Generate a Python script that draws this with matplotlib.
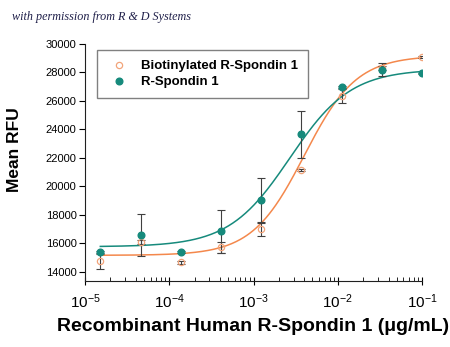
"""Dose-response of R-Spondin 1 vs biotinylated R-Spondin 1 (Mean RFU)."""

import matplotlib

matplotlib.use("Agg")
import matplotlib.pyplot as plt
import numpy as np
from matplotlib.ticker import LogLocator, NullFormatter

# concentrations (ug/mL), 3-fold serial dilution
conc = [1.52e-5, 4.57e-5, 1.37e-4, 4.12e-4, 1.23e-3, 3.7e-3, 1.11e-2, 3.33e-2, 1.0e-1]

biotin_rfu = [14720, 16085, 14650, 15700, 17000, 21135, 26350, 28300, 29040]
biotin_err = [500, 150, 100, 400, 470, 100, 500, 150, 80]

rspo_rfu = [15380, 16575, 15380, 16830, 19000, 23635, 26935, 28150, 27900]
rspo_err = [80, 1450, 80, 1500, 1550, 1650, 120, 450, 50]

# 4PL fit parameters (bottom, top, ec50, hill) estimated from the drawn curves
biotin_fit = (15150, 29150, 4.0e-3, 1.4)
rspo_fit = (15750, 28200, 2.7e-3, 1.2)

series_labels = ["Biotinylated R-Spondin 1", "R-Spondin 1"]

TEAL = "#168a7c"
ORANGE = "#f4884c"


def four_pl(x, bottom, top, ec50, hill):
    return bottom + (top - bottom) / (1.0 + (ec50 / x) ** hill)


def main() -> None:
    plt.rcParams.update({
        "font.family": ["Liberation Sans", "DejaVu Sans"],
        "mathtext.fontset": "custom",
        "mathtext.rm": "Liberation Sans",
        "mathtext.it": "Liberation Sans:italic",
        "mathtext.bf": "Liberation Sans:bold",
    })

    fig = plt.figure(figsize=(4.5, 3.47), dpi=100)
    ax = fig.add_axes([0.1889, 0.1902, 0.749, 0.6844])

    xs = np.logspace(np.log10(conc[0]), -1, 300)
    ax.plot(xs, four_pl(xs, *biotin_fit), color=ORANGE, lw=1.1, zorder=2)
    ax.plot(xs, four_pl(xs, *rspo_fit), color=TEAL, lw=1.1, zorder=2)

    ax.errorbar(conc, biotin_rfu, yerr=biotin_err, fmt="none", ecolor="#404040",
                elinewidth=0.8, capsize=3, capthick=0.8, zorder=3)
    ax.errorbar(conc, rspo_rfu, yerr=rspo_err, fmt="none", ecolor="#404040",
                elinewidth=0.8, capsize=3, capthick=0.8, zorder=3)

    ax.plot(conc, biotin_rfu, "o", ms=4.5, mfc="none", mec="#f2a47a", mew=0.9,
            ls="none", label=series_labels[0], zorder=4)
    ax.plot(conc, rspo_rfu, "o", ms=4.8, mfc=TEAL, mec=TEAL, ls="none",
            label=series_labels[1], zorder=5)

    ax.set_xscale("log")
    ax.set_xlim(1e-5, 1e-1)
    ax.set_ylim(13350, 30000)
    ax.set_yticks(np.arange(14000, 30001, 2000))

    ax.xaxis.set_major_locator(LogLocator(base=10, numticks=10))
    ax.xaxis.set_minor_locator(LogLocator(base=10, subs=np.arange(2, 10), numticks=50))
    ax.xaxis.set_minor_formatter(NullFormatter())

    for side in ("top", "right"):
        ax.spines[side].set_visible(False)
    for side in ("left", "bottom"):
        ax.spines[side].set_color("#202020")
        ax.spines[side].set_linewidth(0.8)

    ax.tick_params(axis="y", direction="out", length=4, width=0.8, labelsize=8, pad=2)
    ax.tick_params(axis="x", which="major", direction="inout", length=6, width=0.8,
                   labelsize=11, pad=5)
    ax.tick_params(axis="x", which="minor", direction="in", length=3, width=0.6)

    ax.set_ylabel("Mean RFU", fontsize=12.5, fontweight="bold", va="center", ha="center")
    ax.yaxis.set_label_coords(-0.208, 0.552)
    ax.set_xlabel("Recombinant Human R-Spondin 1 (\u03bcg/mL)", fontsize=14,
                  fontweight="bold", labelpad=5)

    leg = ax.legend(loc="upper left", bbox_to_anchor=(0.0356, 0.9726), borderaxespad=0,
                    prop={"weight": "bold", "size": 9.5}, frameon=True, fancybox=False,
                    framealpha=1, edgecolor="#808080", borderpad=0.75, labelspacing=0.3,
                    handlelength=1.8, handletextpad=0.8)
    leg.get_frame().set_linewidth(1.0)

    fig.text(0.027, 0.943, "with permission from R & D Systems", fontsize=8.7,
             family="Liberation Serif", style="italic", color="#20204a")

    fig.savefig("out.png", dpi=100)
    plt.close(fig)


if __name__ == "__main__":
    main()
